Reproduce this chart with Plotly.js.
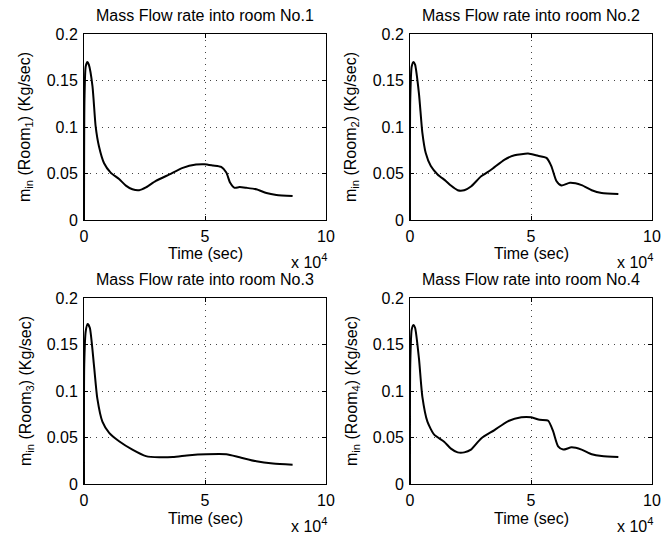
<!DOCTYPE html>
<html>
<head>
<meta charset="utf-8">
<script src="https://cdn.plot.ly/plotly-3.0.1.min.js"></script>
<style>html,body{margin:0;padding:0;background:#fff;}#chart{width:671px;height:535px;}</style>
</head>
<body>
<div id="chart"></div>
<script>
// Time (x 10^4 sec) and mass flow (Kg/sec)
const t1 = [0, 0.02, 0.07, 0.14, 0.2, 0.35, 0.48, 0.62, 0.83, 1.1, 1.45, 1.73, 2.0, 2.28, 2.56, 2.97, 3.53, 4.08, 4.63, 4.98, 5.33, 5.67, 5.88, 6.04, 6.22, 6.43, 6.71, 7.12, 7.54, 7.95, 8.62];
const m1 = [0, 0.13, 0.165, 0.170, 0.167, 0.144, 0.101, 0.079, 0.061, 0.051, 0.044, 0.037, 0.033, 0.032, 0.035, 0.042, 0.049, 0.056, 0.0596, 0.060, 0.0586, 0.057, 0.051, 0.040, 0.0346, 0.0354, 0.0346, 0.033, 0.029, 0.027, 0.0257];

const t2 = [0, 0.01, 0.07, 0.14, 0.21, 0.37, 0.51, 0.65, 0.86, 1.14, 1.48, 1.69, 1.97, 2.24, 2.52, 2.94, 3.35, 3.91, 4.32, 4.88, 5.29, 5.64, 5.84, 6.05, 6.26, 6.61, 7.09, 7.51, 7.92, 8.61];
const m2 = [0, 0.129, 0.165, 0.170, 0.167, 0.136, 0.094, 0.072, 0.058, 0.049, 0.042, 0.037, 0.032, 0.032, 0.036, 0.047, 0.054, 0.065, 0.0696, 0.0714, 0.069, 0.0668, 0.058, 0.042, 0.037, 0.040, 0.0375, 0.032, 0.029, 0.028];

const t3 = [0, 0.01, 0.07, 0.15, 0.24, 0.41, 0.55, 0.76, 1.04, 1.45, 2.0, 2.56, 3.11, 3.67, 4.36, 5.05, 5.88, 6.43, 7.12, 7.81, 8.62];
const m3 = [0, 0.128, 0.164, 0.172, 0.168, 0.128, 0.092, 0.067, 0.055, 0.046, 0.037, 0.030, 0.0287, 0.029, 0.031, 0.032, 0.032, 0.0287, 0.0244, 0.022, 0.0208];

const t4 = [0, 0.01, 0.07, 0.14, 0.21, 0.37, 0.51, 0.72, 1.0, 1.41, 1.69, 1.97, 2.24, 2.52, 2.94, 3.49, 4.04, 4.6, 5.01, 5.36, 5.71, 5.91, 6.12, 6.33, 6.68, 7.09, 7.51, 7.92, 8.61];
const m4 = [0, 0.128, 0.166, 0.171, 0.168, 0.135, 0.094, 0.067, 0.053, 0.0455, 0.038, 0.034, 0.034, 0.037, 0.049, 0.058, 0.0674, 0.0717, 0.0717, 0.069, 0.068, 0.057, 0.0405, 0.037, 0.0394, 0.037, 0.032, 0.030, 0.029];

const titles = ["Mass Flow rate into room No.1", "Mass Flow rate into room No.2", "Mass Flow rate into room No.3", "Mass Flow rate into room No.4"];
const yTitles = ["m<sub>in</sub> (Room<sub>1</sub>) (Kg/sec)", "m<sub>in</sub> (Room<sub>2</sub>) (Kg/sec)", "m<sub>in</sub> (Room<sub>3</sub>) (Kg/sec)", "m<sub>in</sub> (Room<sub>4</sub>) (Kg/sec)"];
const xTitle = "Time (sec)";
const xExponent = "x 10<sup>4</sup>";
const xTickVals = [0, 5, 10];
const xTickText = ["0", "5", "10"];
const yTickVals = [0, 0.05, 0.1, 0.15, 0.2];
const yTickText = ["0", "0.05", "0.1", "0.15", "0.2"];

const W = 671, H = 535;
const FONT = "Liberation Sans, Arial, Helvetica, sans-serif";
const series = [[t1, m1], [t2, m2], [t3, m3], [t4, m4]];

// panel pixel boxes: [left, right, top, bottom]
const boxes = [[84, 326, 34, 220], [410, 652, 34, 220], [84, 326, 298, 484], [410, 652, 298, 484]];

const data = [];
const layout = {
  width: W, height: H,
  margin: {l: 0, r: 0, t: 0, b: 0, pad: 0},
  paper_bgcolor: "#fff", plot_bgcolor: "#fff",
  showlegend: false,
  font: {family: FONT, size: 16, color: "#000"},
  annotations: []
};

function px(x) { return x / W; }
function py(y) { return 1 - y / H; }

series.forEach((s, i) => {
  const n = i + 1;
  const xa = n === 1 ? "x" : "x" + n;
  const ya = n === 1 ? "y" : "y" + n;
  data.push({
    x: s[0], y: s[1], xaxis: xa, yaxis: ya,
    type: "scatter", mode: "lines",
    line: {color: "#000", width: 2, shape: "spline", smoothing: 0.6},
    hoverinfo: "skip"
  });
  const b = boxes[i];
  const axCommon = {
    showline: true, linecolor: "#000", linewidth: 1, mirror: "ticks",
    ticks: "inside", ticklen: 4, tickcolor: "#000", tickwidth: 1,
    showgrid: true, gridcolor: "#444", gridwidth: 1, griddash: "1px,5px",
    zeroline: false, fixedrange: true,
    tickfont: {family: FONT, size: 16, color: "#000"}
  };
  layout["xaxis" + (n === 1 ? "" : n)] = Object.assign({}, axCommon, {
    domain: [px(b[0]), px(b[1])], anchor: ya,
    range: [0, 10], tickmode: "array", tickvals: xTickVals, ticktext: xTickText,
    ticklabelstandoff: 2
  });
  layout["yaxis" + (n === 1 ? "" : n)] = Object.assign({}, axCommon, {
    domain: [py(b[3]), py(b[2])], anchor: xa,
    range: [0, 0.2], tickmode: "array", tickvals: yTickVals, ticktext: yTickText,
    ticklabelstandoff: 2
  });
  const cx = (b[0] + b[1]) / 2;
  layout.annotations.push(
    {text: titles[i], xref: "paper", yref: "paper", x: px(cx), y: py(b[2] - 19), xanchor: "center", yanchor: "middle", showarrow: false, font: {family: FONT, size: 16, color: "#000"}},
    {text: xTitle, xref: "paper", yref: "paper", x: px(cx), y: py(b[3] + 34), xanchor: "center", yanchor: "middle", showarrow: false, font: {family: FONT, size: 16, color: "#000"}},
    {text: xExponent, xref: "paper", yref: "paper", x: px(b[1] + 3), y: py(b[3] + 41), xanchor: "right", yanchor: "middle", showarrow: false, font: {family: FONT, size: 16, color: "#000"}},
    {text: yTitles[i], xref: "paper", yref: "paper", x: px(b[0] - 58), y: py((b[2] + b[3]) / 2), xanchor: "center", yanchor: "middle", textangle: -90, showarrow: false, font: {family: FONT, size: 16, color: "#000"}}
  );
});

Plotly.newPlot("chart", data, layout, {staticPlot: true, displayModeBar: false});
</script>
</body>
</html>
